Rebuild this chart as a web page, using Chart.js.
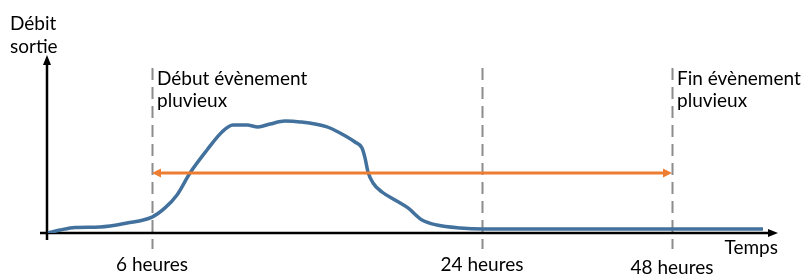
<!DOCTYPE html>
<html>
<head>
<meta charset="utf-8">
<script src="https://cdn.jsdelivr.net/npm/chart.js@4/dist/chart.umd.min.js"></script>
<style>
  html, body { margin: 0; padding: 0; background: #fff; }
  #wrap { width: 804px; height: 275px; }
</style>
</head>
<body>
<div id="wrap"><canvas id="hydro" width="804" height="275"></canvas></div>
<script>
// schematic time position (arbitrary units) and outflow (% of axis height)
const timePos = [1, 13, 28, 53, 80, 105, 118, 130, 143, 160, 175, 186, 200, 211, 223, 238, 253, 280, 293, 308, 315, 318, 321, 326, 335, 348, 361, 375, 390, 413, 436, 716];
const debit = [0, 1.7, 3.2, 3.5, 5.8, 9.2, 14.5, 22, 34.7, 48, 58.4, 62.4, 62.4, 61.3, 63, 64.7, 64.2, 61.3, 57.8, 52.6, 49.1, 43.4, 35.3, 28.9, 23.7, 19.1, 14.5, 7.5, 4.6, 2.9, 2.3, 2.3];

const markerPos = [105, 435, 625];
const markerLabels = ["6 heures", "24 heures", "48 heures"];

const eventStart = 105;
const eventEnd = 625;
const eventLevel = 34.7;

const eventLabels = [["Début évènement", "pluvieux"], ["Fin évènement", "pluvieux"]];

const FONT = "19px Lato";

const schemePlugin = {
  id: "scheme",
  beforeDatasetsDraw(chart) {
    const { ctx, chartArea, scales } = chart;
    const x = scales.x, y = scales.y;
    ctx.save();
    // dashed marker lines
    ctx.strokeStyle = "#8c8c8c";
    ctx.lineWidth = 2;
    ctx.setLineDash([12, 7]);
    markerPos.forEach((m) => {
      const px = Math.round(x.getPixelForValue(m)) + 0.5;
      ctx.beginPath();
      ctx.moveTo(px, 68);
      ctx.lineTo(px, 249);
      ctx.stroke();
    });
    ctx.setLineDash([]);

    // axes
    const x0 = chartArea.left, y0 = y.getPixelForValue(0);
    ctx.strokeStyle = "#000";
    ctx.fillStyle = "#000";
    ctx.lineWidth = 2.5;
    ctx.beginPath();
    ctx.moveTo(x0, 240);
    ctx.lineTo(x0, 62);
    ctx.moveTo(40, y0);
    ctx.lineTo(770, y0);
    ctx.stroke();
    ctx.beginPath();
    ctx.moveTo(x0, 55);
    ctx.lineTo(x0 - 4, 65);
    ctx.lineTo(x0 + 4, 65);
    ctx.closePath();
    ctx.fill();
    ctx.beginPath();
    ctx.moveTo(778, y0);
    ctx.lineTo(768, y0 - 4);
    ctx.lineTo(768, y0 + 4);
    ctx.closePath();
    ctx.fill();

    // texts
    ctx.font = FONT;
    ctx.fillStyle = "#000";
    ctx.textBaseline = "alphabetic";
    ctx.textAlign = "left";
    ctx.fillText("Débit", 10, 30);
    ctx.fillText("sortie", 10, 53);
    ctx.textAlign = "right";
    ctx.fillText("Temps", 778, 254);
    ctx.textAlign = "center";
    const baselines = [271, 271, 274];
    markerPos.forEach((m, i) => {
      ctx.fillText(markerLabels[i], x.getPixelForValue(m), baselines[i]);
    });
    ctx.textAlign = "left";
    [eventStart, eventEnd].forEach((m, i) => {
      const px = x.getPixelForValue(m) + 5;
      ctx.fillText(eventLabels[i][0], px, 85);
      ctx.fillText(eventLabels[i][1], px, 107);
    });
    ctx.restore();
  },
  afterDatasetsDraw(chart) {
    const { ctx, scales } = chart;
    const py = scales.y.getPixelForValue(eventLevel);
    const xs = scales.x.getPixelForValue(eventStart);
    const xe = scales.x.getPixelForValue(eventEnd);
    ctx.save();
    ctx.fillStyle = "#ed7d31";
    ctx.beginPath();
    ctx.moveTo(xs, py);
    ctx.lineTo(xs + 9, py - 4.5);
    ctx.lineTo(xs + 9, py + 4.5);
    ctx.closePath();
    ctx.fill();
    ctx.beginPath();
    ctx.moveTo(xe, py);
    ctx.lineTo(xe - 9, py - 4.5);
    ctx.lineTo(xe - 9, py + 4.5);
    ctx.closePath();
    ctx.fill();
    ctx.restore();
  },
};

new Chart(document.getElementById("hydro"), {
  type: "line",
  data: {
    datasets: [
      {
        label: "Débit sortie",
        data: timePos.map((t, i) => ({ x: t, y: debit[i] })),
        borderColor: "#41719c",
        borderWidth: 3.5,
        pointRadius: 0,
        cubicInterpolationMode: "monotone",
        fill: false,
        order: 1,
      },
      {
        label: "Évènement pluvieux",
        data: [
          { x: eventStart + 6, y: eventLevel },
          { x: eventEnd - 6, y: eventLevel },
        ],
        borderColor: "#ed7d31",
        borderWidth: 3,
        pointRadius: 0,
        fill: false,
        order: 0,
      },
    ],
  },
  options: {
    responsive: false,
    animation: false,
    maintainAspectRatio: false,
    layout: { padding: { left: 47, right: 27, top: 60, bottom: 42 } },
    scales: {
      x: { type: "linear", min: 0, max: 730, display: false },
      y: { min: 0, max: 100, display: false },
    },
    plugins: {
      legend: { display: false },
      tooltip: { enabled: false },
    },
  },
  plugins: [schemePlugin],
});
</script>
</body>
</html>
